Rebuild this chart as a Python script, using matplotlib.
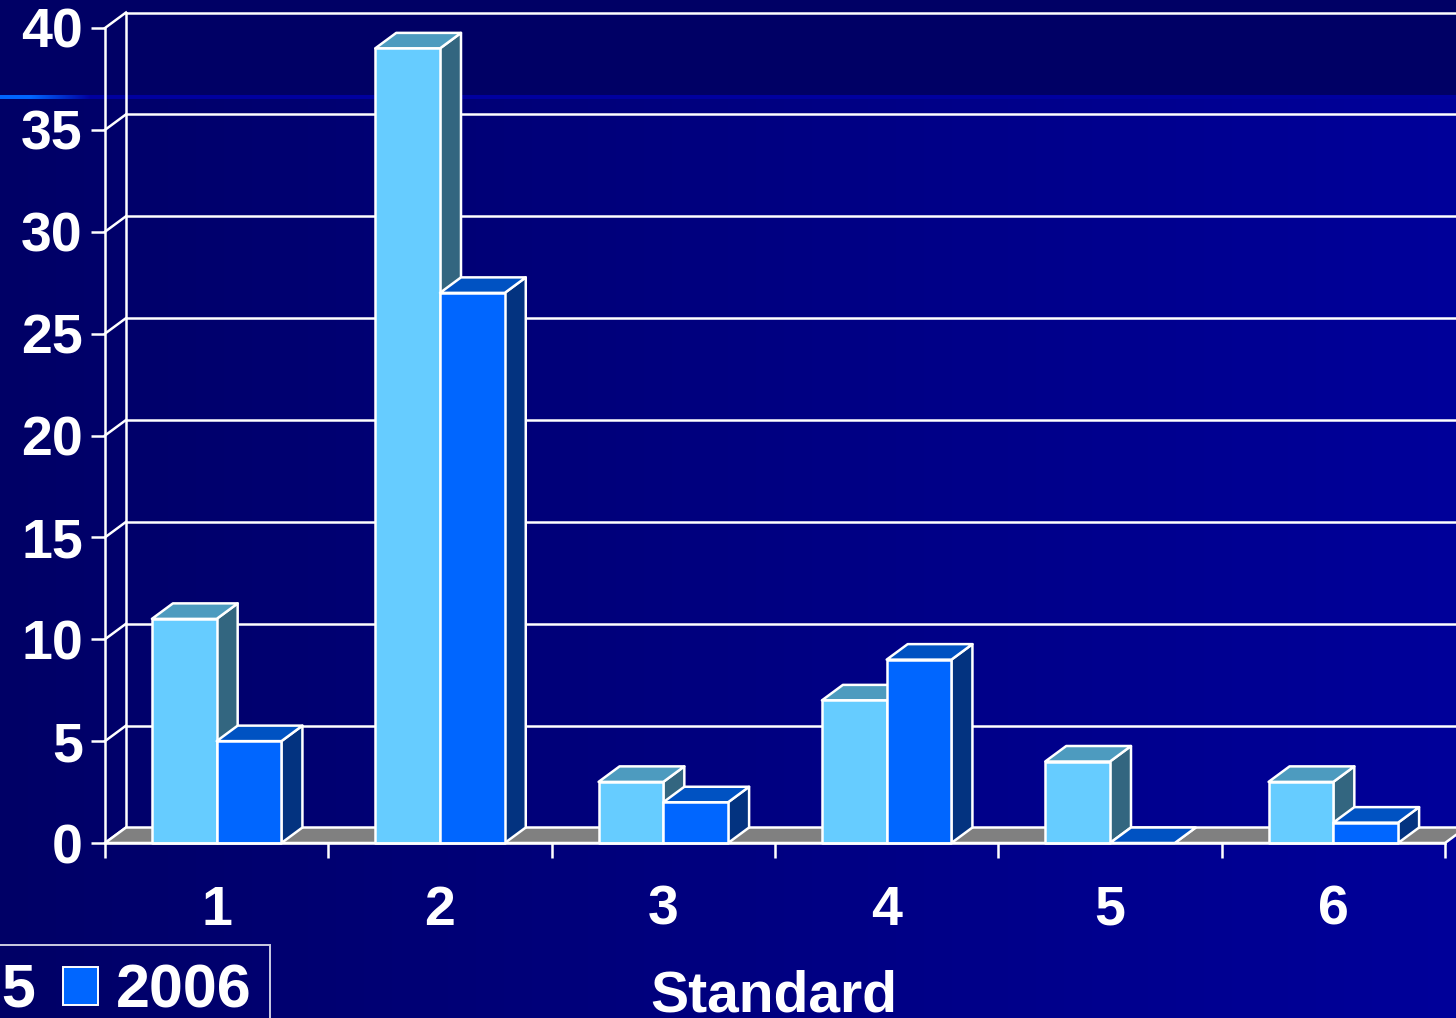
import numpy as np
import matplotlib
matplotlib.use("Agg")
from matplotlib import pyplot as plt
from matplotlib.patches import Polygon, Patch

plt.rcParams['font.family'] = ['Liberation Sans', 'DejaVu Sans']
plt.rcParams['font.weight'] = 'bold'

# data
categories = ['1', '2', '3', '4', '5', '6']
series_names = ['2005', '2006']
values_2005 = [11, 39, 3, 7, 4, 3]
values_2006 = [5, 27, 2, 9, 0, 1]
y_ticks = [0, 5, 10, 15, 20, 25, 30, 35, 40]

# face colours: front, top, side
colors_2005 = ('#66CCFF', '#4D9BBF', '#336680')
colors_2006 = ('#0066FF', '#0052C2', '#033380')
floor_color = '#808080'
white = 'white'

W, H = 1456, 1018
fig = plt.figure(figsize=(W / 100, H / 100), dpi=100)

# background: dark band on top, horizontal gradient below
bg = fig.add_axes([0, 0, 1, 1])
bg.set_axis_off()
img = np.zeros((H, W, 3))
t = np.linspace(0, 1, W)
img[:, :, 2] = (0x66 + (0x9A - 0x66) * t)[None, :] / 255
img[:97, :, 2] = 0x66 / 255
glow = np.clip(1 - (np.arange(W) - 30) / 60, 0, 1)
img[95:99, :, 1] = (0x66 / 255 * glow)[None, :]
img[95:99, :, 2] = ((0xFF * glow + 0xA0 * (1 - glow)) / 255)[None, :]
bg.imshow(img, extent=(0, 1, 0, 1), aspect='auto', zorder=0)
bg.set_xlim(0, 1)
bg.set_ylim(0, 1)

# main axes = front plane of the 3d box
x0, x1 = 105, 1445
y0, y1 = 843, 28
ax = fig.add_axes([x0 / W, 1 - y0 / H, (x1 - x0) / W, (y0 - y1) / H])
ax.patch.set_alpha(0)
ax.set_xlim(0, len(categories))
ax.set_ylim(0, 40)

# depth offset of the 3d look, in data units
dx = 21 / ((x1 - x0) / len(categories))
dy = 15.5 / ((y0 - y1) / 40)
lw = 1.8
bw = 0.29

# back wall gridlines and connectors
for v in y_ticks:
    ax.plot([dx, len(categories) + 1], [v + dy, v + dy], color=white, lw=lw, clip_on=False, zorder=1)
    ax.plot([0, dx], [v, v + dy], color=white, lw=lw, clip_on=False, zorder=1)
ax.plot([dx, dx], [dy, 40 + dy], color=white, lw=lw, clip_on=False, zorder=1)

# floor
n = len(categories)
ax.add_patch(Polygon([(0, 0), (n, 0), (n + dx, dy), (dx, dy)], closed=True,
                     facecolor=floor_color, edgecolor=white, lw=lw, clip_on=False, zorder=2))


def bar3d(ax, left, width, height, cols, z):
    front, top, side = cols
    r = left + width
    ax.add_patch(Polygon([(r, 0), (r + dx, dy), (r + dx, height + dy), (r, height)],
                         facecolor=side, edgecolor=white, lw=lw, joinstyle='round', clip_on=False, zorder=z))
    ax.add_patch(Polygon([(left, height), (r, height), (r + dx, height + dy), (left + dx, height + dy)],
                         facecolor=top, edgecolor=white, lw=lw, joinstyle='round', clip_on=False, zorder=z))
    if height > 0:
        ax.add_patch(Polygon([(left, 0), (r, 0), (r, height), (left, height)],
                             facecolor=front, edgecolor=white, lw=lw, joinstyle='round', clip_on=False, zorder=z))


z = 3
for i in range(n):
    bar3d(ax, i + 0.5 - bw, bw, values_2005[i], colors_2005, z)
    z += 1
    bar3d(ax, i + 0.5, bw, values_2006[i], colors_2006, z)
    z += 1

# axes, ticks and labels
for s in ['top', 'right']:
    ax.spines[s].set_visible(False)
for s in ['left', 'bottom']:
    ax.spines[s].set_color(white)
    ax.spines[s].set_linewidth(lw)
    ax.spines[s].set_zorder(50)

ax.set_yticks(y_ticks)
ax.set_yticklabels([str(v) for v in y_ticks])
ax.tick_params(axis='y', colors=white, length=10, width=lw, pad=6, labelsize=40)

ax.set_xticks(range(n + 1))
ax.set_xticklabels([])
ax.set_xticks([i + 0.5 for i in range(n)], minor=True)
ax.set_xticklabels(categories, minor=True)
ax.tick_params(axis='x', which='major', colors=white, length=11, width=lw)
ax.tick_params(axis='x', which='minor', colors=white, length=0, pad=30, labelsize=40)

fig.text(774 / W, 1 - 1011 / H, 'Standard', color=white, fontsize=41,
         ha='center', va='baseline', fontweight='bold')

handles = [Patch(facecolor=colors_2005[0], edgecolor=white, lw=1.4),
           Patch(facecolor=colors_2006[0], edgecolor=white, lw=1.4)]
leg = fig.legend(handles, series_names, loc='upper right',
                 bbox_to_anchor=(270 / W, 1 - 945 / H), bbox_transform=fig.transFigure,
                 ncol=2, fontsize=44, frameon=True, fancybox=False,
                 handlelength=0.57, handleheight=0.57, handletextpad=0.3,
                 columnspacing=0.42, borderpad=0.3, borderaxespad=0)
leg.get_frame().set_edgecolor(white)
leg.get_frame().set_facecolor('none')
leg.get_frame().set_linewidth(1.4)
for txt in leg.get_texts():
    txt.set_color(white)

fig.savefig('out.png', dpi=100)
